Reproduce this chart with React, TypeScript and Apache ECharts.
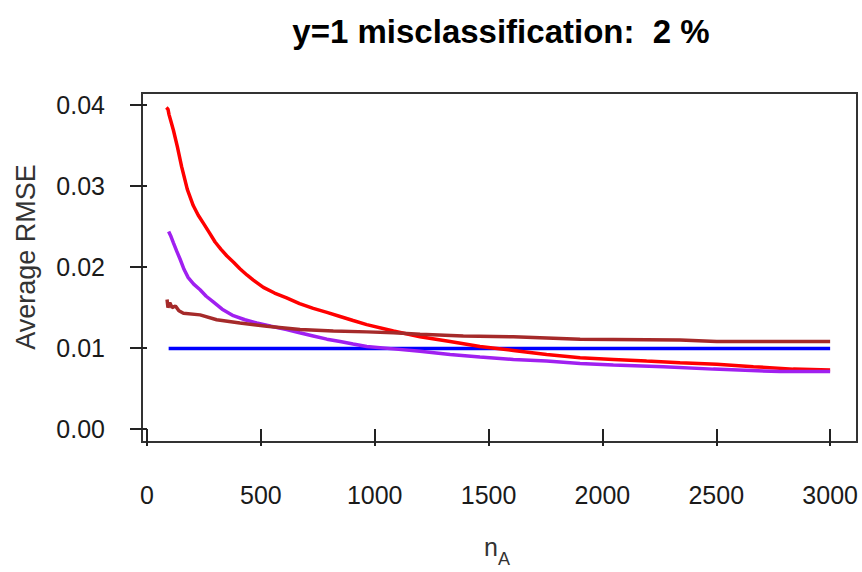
import React, { useEffect, useRef } from "react";
import * as echarts from "echarts";

const titleText = "y=1 misclassification:  2 %";
const yAxisTitle = "Average RMSE";
const xTicks = [0, 500, 1000, 1500, 2000, 2500, 3000];
const yTicks = [0, 0.01, 0.02, 0.03, 0.04];

const redX = [85, 92, 97, 105, 116, 133, 152, 177, 203, 225, 248, 275, 299, 325, 350, 380, 408, 440, 467, 511, 560, 613, 670, 730, 790, 848, 905, 965, 1082, 1199, 1331, 1462, 1609, 1755, 1902, 2048, 2194, 2341, 2502, 2663, 2838, 3000];
const redY = [0.0397, 0.0395, 0.0388, 0.038, 0.0369, 0.0349, 0.0324, 0.0296, 0.0276, 0.0264, 0.0254, 0.0242, 0.0231, 0.0222, 0.0214, 0.0206, 0.0198, 0.019, 0.0184, 0.0175, 0.0168, 0.0162, 0.0155, 0.0149, 0.0144, 0.0139, 0.0134, 0.0129, 0.0121, 0.0114, 0.0108, 0.0102, 0.0097, 0.0092, 0.0088, 0.0086, 0.0084, 0.0082, 0.008, 0.0077, 0.0074, 0.0073];

const purpleX = [95, 105, 116, 130, 145, 163, 181, 205, 233, 260, 291, 330, 379, 430, 482, 545, 613, 670, 730, 790, 848, 905, 965, 1082, 1199, 1331, 1462, 1609, 1755, 1902, 2048, 2268, 2487, 2780, 3000];
const purpleY = [0.0244, 0.0238, 0.023, 0.022, 0.021, 0.0197, 0.0187, 0.0179, 0.0172, 0.0164, 0.0157, 0.0148, 0.014, 0.0135, 0.0131, 0.0127, 0.0123, 0.0119, 0.0115, 0.0111, 0.0108, 0.0105, 0.0102, 0.0099, 0.0096, 0.0092, 0.0089, 0.0086, 0.0084, 0.0081, 0.0079, 0.0077, 0.0074, 0.0071, 0.0071];

const brownX = [88, 92, 100, 110, 125, 140, 160, 233, 306, 408, 526, 672, 818, 965, 1082, 1199, 1389, 1609, 1902, 2341, 2502, 3000];
const brownY = [0.016, 0.015, 0.0156, 0.015, 0.0152, 0.0146, 0.0143, 0.0141, 0.0135, 0.0131, 0.0127, 0.0123, 0.0121, 0.012, 0.0119, 0.0117, 0.0115, 0.0114, 0.0111, 0.011, 0.0108, 0.0108];

const blueX = [95, 3000];
const blueY = [0.00995, 0.00995];

const zip = (xs: number[], ys: number[]) => xs.map((x, i) => [x, ys[i]]);

const SANS = "'Liberation Sans', Arial, sans-serif";

export default function App() {
  const ref = useRef<HTMLDivElement>(null);
  useEffect(() => {
    if (!ref.current) return;
    const chart = echarts.init(ref.current, null, { renderer: "svg" });
    const line = (name: string, color: string, data: number[][]) => ({
      name,
      type: "line",
      data,
      showSymbol: false,
      symbol: "none",
      lineStyle: { color, width: 3.5 },
      itemStyle: { color },
    });
    chart.setOption({
      animation: false,
      backgroundColor: "#ffffff",
      title: {
        text: titleText,
        left: 496,
        top: 10,
        textAlign: "center",
        textStyle: { fontFamily: SANS, fontWeight: "bold", fontSize: 33, color: "#000" },
      },
      grid: {
        left: 142,
        right: 5,
        top: 93,
        bottom: 130,
        show: true,
        borderColor: "#333",
        borderWidth: 2,
        backgroundColor: "transparent",
      },
      xAxis: {
        type: "value",
        min: -22,
        max: 3118,
        axisLine: { show: false },
        splitLine: { show: false },
        axisTick: {
          show: true,
          customValues: xTicks,
          length: 17,
          inside: false,
          lineStyle: { color: "#222", width: 2 },
        },
        axisLabel: {
          customValues: xTicks,
          margin: 40,
          fontFamily: SANS,
          fontSize: 25,
          color: "#1a1a1a",
          formatter: (v: number) => String(v),
        },
      },
      yAxis: {
        type: "value",
        min: -0.0016,
        max: 0.0415,
        axisLine: { show: false },
        splitLine: { show: false },
        axisTick: {
          show: true,
          customValues: yTicks,
          length: 17,
          inside: false,
          lineStyle: { color: "#222", width: 2 },
        },
        axisLabel: {
          customValues: yTicks,
          margin: 37,
          fontFamily: SANS,
          fontSize: 25,
          color: "#1a1a1a",
          formatter: (v: number) => v.toFixed(2),
        },
      },
      graphic: [
        {
          type: "text",
          x: 26,
          y: 257,
          rotation: Math.PI / 2,
          style: {
            text: yAxisTitle,
            fontFamily: SANS,
            fontSize: 27,
            fill: "#333",
            align: "center",
            verticalAlign: "middle",
          },
        },
        {
          type: "text",
          x: 497,
          y: 551,
          style: {
            text: "{n|n}{s|A}",
            align: "center",
            verticalAlign: "middle",
            rich: {
              n: { fontFamily: SANS, fontSize: 25, fill: "#333", lineHeight: 34, verticalAlign: "top" },
              s: { fontFamily: SANS, fontSize: 18, fill: "#333", lineHeight: 34, verticalAlign: "bottom" },
            },
          },
        },
      ],
      series: [
        line("blue", "#0000ff", zip(blueX, blueY)),
        line("red", "#ff0000", zip(redX, redY)),
        line("purple", "#a020f0", zip(purpleX, purpleY)),
        line("brown", "#a52a2a", zip(brownX, brownY)),
      ],
    });
    return () => chart.dispose();
  }, []);
  return <div ref={ref} style={{ position: "fixed", left: 0, top: 0, width: 862, height: 572 }} />;
}
